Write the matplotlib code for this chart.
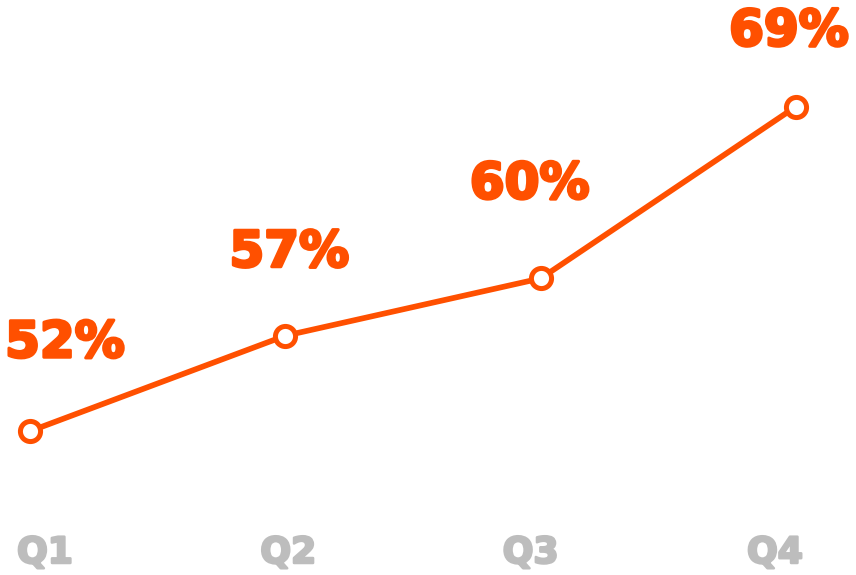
import matplotlib.pyplot as plt
import matplotlib.patheffects as pe
import numpy as np

quarters = ["Q1", "Q2", "Q3", "Q4"]
values = [52, 57, 60, 69]

orange = "#FF5000"
grey = "#BDBDBD"

# label nudges in pixels (value label, quarter label)
val_dx = [35, 4, -11, -7]
val_dy = [88, 83, 94, 75]
q_dx = [15, 3, -10, -21]

fig = plt.figure(figsize=(8.56, 5.75), dpi=100)
ax = fig.add_axes([0, 0, 1, 1])

x = np.arange(len(values))
ax.plot(x, values, color=orange, lw=4.1, marker="o", ms=14.5,
        mfc="white", mec=orange, mew=3.6, solid_capstyle="round", zorder=3)

for i, v in enumerate(values):
    ax.annotate(f"{v}%", (x[i], v), xytext=(val_dx[i], val_dy[i]),
                textcoords="offset pixels", ha="center", va="center",
                color=orange, fontsize=36, fontweight="bold", family="DejaVu Sans",
                path_effects=[pe.withStroke(linewidth=2.2, foreground=orange)])

trans = ax.get_xaxis_transform()
for i, q in enumerate(quarters):
    ax.annotate(q, (x[i], 0), xycoords=trans, xytext=(q_dx[i], 22),
                textcoords="offset pixels", ha="center", va="center",
                color=grey, fontsize=26, fontweight="bold", family="DejaVu Sans",
                path_effects=[pe.withStroke(linewidth=1.8, foreground=grey)])

ax.set_xlim(-0.1175, 3.235)
ax.set_ylim(44.47, 74.58)
ax.set_axis_off()

fig.savefig("out.png", dpi=100, facecolor="white")
